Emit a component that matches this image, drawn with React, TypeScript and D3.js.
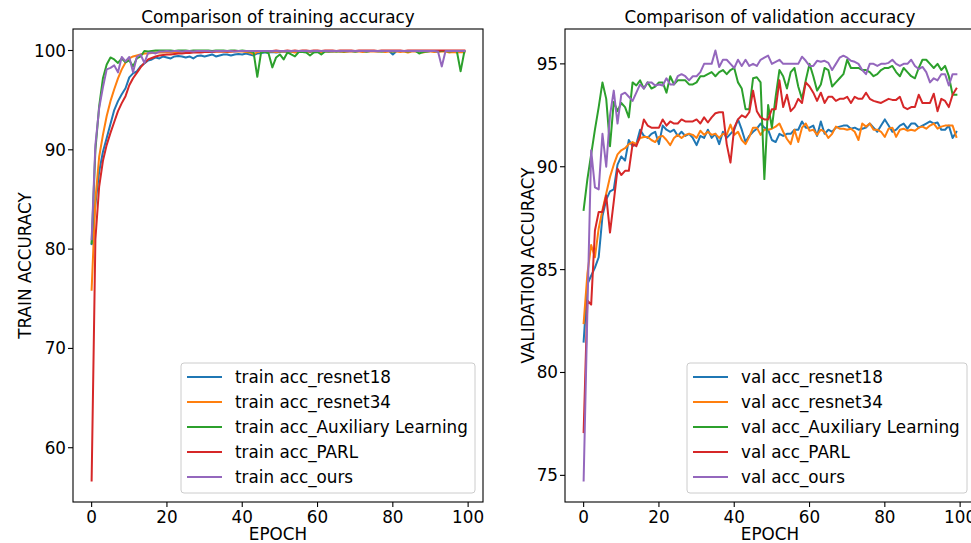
import React from 'react';
import * as d3 from 'd3';

const epochs = d3.range(100);

const trainResnet18 = [80.5, 84.5, 87.8, 89.8, 91.2, 92.6, 94.0, 94.9, 95.6, 96.2, 97.3, 97.7, 97.9, 98.4, 98.7, 99.0, 99.1, 99.3, 99.2, 99.4,
  99.3, 99.2, 99.4, 99.45, 99.4, 99.3, 99.4, 99.2, 99.45, 99.5, 99.4, 99.5, 99.6, 99.4, 99.5, 99.6, 99.6, 99.5, 99.6, 99.65,
  99.6, 99.7, 99.6, 99.5, 99.7, 99.75, 99.8, 99.8, 99.85, 99.8, 99.85, 99.9, 99.85, 99.9, 99.85, 99.9, 99.9, 99.9, 99.85, 99.9,
  99.9, 99.9, 99.95, 99.9, 99.9, 99.95, 99.9, 99.95, 99.9, 99.95, 99.9, 99.95, 99.95, 99.9, 99.95, 99.95, 99.9, 99.95, 99.95, 99.95,
  99.6, 99.95, 99.95, 99.95, 99.9, 99.95, 99.95, 99.95, 99.95, 99.9, 99.95, 99.95, 99.95, 99.95, 99.95, 99.95, 99.9, 99.95, 99.95, 99.95];

const trainResnet34 = [75.9, 85.0, 89.3, 91.5, 93.4, 94.9, 96.1, 97.2, 98.1, 98.8, 99.2, 99.4, 99.5, 99.6, 99.7, 99.7, 99.75, 99.8, 99.8, 99.8,
  99.85, 99.8, 99.85, 99.85, 99.8, 99.85, 99.9, 99.85, 99.9, 99.85, 99.9, 99.9, 99.85, 99.9, 99.9, 99.9, 99.85, 99.9, 99.9, 99.9,
  99.9, 99.85, 99.8, 99.6, 99.85, 99.9, 99.9, 99.9, 99.9, 99.85, 99.9, 99.9, 99.9, 99.9, 99.8, 99.9, 99.9, 99.85, 99.9, 99.9,
  99.9, 99.85, 99.9, 99.9, 99.9, 99.9, 99.9, 99.85, 99.9, 99.9, 99.9, 99.9, 99.85, 99.9, 99.9, 99.9, 99.9, 99.9, 99.85, 99.9,
  99.9, 99.9, 99.85, 99.9, 99.8, 99.9, 99.9, 99.9, 99.8, 99.9, 99.9, 99.85, 99.9, 99.9, 99.9, 99.8, 99.85, 99.8, 99.85, 99.8];

const trainAux = [80.6, 90.0, 94.4, 97.2, 98.6, 99.3, 99.1, 98.75, 99.2, 98.8, 99.0, 98.4, 99.2, 99.4, 99.95, 99.9, 99.95, 100, 100, 100,
  100, 100, 99.95, 100, 100, 100, 99.95, 100, 100, 100, 100, 100, 99.95, 100, 100, 100, 99.95, 100, 100, 99.95,
  100, 99.95, 99.9, 99.85, 97.35, 99.8, 99.9, 99.7, 98.3, 99.3, 99.6, 99.1, 99.8, 99.6, 99.4, 99.85, 99.85, 99.8, 99.5, 99.8,
  99.85, 99.6, 99.9, 99.9, 99.95, 99.9, 99.95, 99.9, 99.95, 99.95, 99.9, 99.95, 99.95, 99.9, 99.95, 99.95, 99.95, 99.9, 99.95, 99.95,
  99.9, 99.95, 99.95, 99.95, 99.9, 99.95, 99.95, 99.7, 99.85, 99.9, 99.95, 99.95, 99.9, 99.95, 99.95, 99.9, 99.95, 99.95, 97.9, 99.9];

const trainParl = [56.7, 81.0, 86.3, 88.9, 90.5, 91.7, 92.8, 93.9, 94.7, 95.4, 96.5, 97.2, 97.75, 98.3, 98.75, 99.1, 99.25, 99.4, 99.5, 99.55,
  99.6, 99.6, 99.65, 99.7, 99.7, 99.75, 99.75, 99.8, 99.8, 99.8, 99.85, 99.85, 99.85, 99.9, 99.9, 99.9, 99.9, 99.9, 99.95, 99.95,
  99.95, 99.95, 99.95, 99.95, 99.95, 99.95, 99.95, 99.95, 99.95, 100, 99.95, 99.95, 100, 99.95, 100, 99.95, 100, 100, 99.95, 100,
  100, 99.95, 100, 100, 100, 99.95, 100, 100, 100, 100, 99.95, 100, 100, 100, 100, 100, 99.95, 100, 100, 100,
  100, 100, 100, 99.95, 100, 100, 100, 100, 100, 100, 100, 100, 100, 100, 100, 100, 100, 100, 100, 100];

const trainOurs = [81.0, 90.5, 94.2, 96.3, 98.1, 98.25, 98.5, 97.8, 99.35, 98.9, 99.35, 97.8, 99.35, 99.6, 98.75, 99.75, 99.8, 99.7, 99.9, 99.9,
  99.95, 99.9, 99.95, 99.95, 99.9, 99.95, 99.95, 99.9, 99.95, 99.95, 99.95, 99.95, 99.9, 99.95, 99.95, 99.95, 99.95, 99.95, 99.9, 99.95,
  99.95, 99.95, 99.95, 99.95, 99.95, 99.95, 99.95, 99.95, 99.95, 99.95, 99.95, 99.95, 99.95, 99.95, 99.95, 99.95, 99.95, 99.95, 99.95, 99.95,
  99.95, 99.95, 99.95, 99.95, 99.95, 99.95, 99.95, 99.95, 99.95, 99.95, 99.95, 99.95, 99.95, 99.95, 99.95, 99.95, 99.95, 99.95, 99.95, 99.95,
  99.95, 99.95, 99.95, 99.95, 99.95, 99.95, 99.95, 99.95, 99.95, 99.95, 99.95, 99.95, 99.9, 98.4, 99.95, 99.95, 99.95, 99.95, 99.95, 99.95];

const valResnet18 = [81.5, 84.3, 84.7, 85.1, 85.6, 87.6, 88.4, 88.8, 88.9, 90.1, 90.5, 90.3, 91.3, 91.0, 91.1, 91.8, 91.5, 91.4, 91.6, 91.7,
  91.1, 92.0, 91.8, 91.7, 91.8, 91.5, 91.7, 91.5, 91.6, 91.4, 91.05, 91.5, 91.4, 91.8, 91.4, 91.6, 91.1, 91.7, 91.4, 91.6,
  91.8, 92.3, 91.8, 91.2, 91.5, 91.7, 91.85, 92.1, 91.9, 91.8, 91.3, 91.2, 91.6, 91.5, 91.6, 91.6, 91.8, 91.8, 92.2, 91.9,
  91.9, 92.0, 91.5, 92.2, 91.6, 91.8, 91.7, 91.9, 91.95, 92.0, 92.0, 91.85, 91.9, 91.8, 91.85, 91.9, 92.1, 91.9, 91.7, 92.0,
  92.3, 92.0, 91.7, 91.8, 92.0, 92.1, 91.85, 92.1, 92.1, 91.9, 92.0, 92.1, 92.2, 92.1, 92.15, 91.8, 91.8, 92.0, 91.4, 91.7];

const valResnet34 = [82.4, 84.8, 86.2, 85.6, 87.0, 87.9, 88.7, 89.5, 90.1, 90.6, 90.8, 90.9, 91.1, 91.2, 91.1, 91.4, 91.45, 91.45, 91.3, 91.2,
  91.45, 91.5, 91.3, 91.05, 91.4, 91.55, 91.4, 91.55, 91.6, 91.55, 91.4, 91.75, 91.55, 91.7, 91.55, 91.6, 91.4, 91.6, 91.55, 92.05,
  91.55, 91.7, 91.3, 91.1, 91.45, 91.9, 91.9, 91.55, 91.8, 91.8, 91.85, 91.95, 92.1, 91.7, 91.35, 91.1, 91.8, 91.2, 91.9, 92.1,
  91.75, 91.8, 91.55, 91.8, 91.7, 91.4, 91.6, 91.95, 91.85, 91.85, 91.8, 91.85, 91.7, 91.3, 92.1, 91.95, 92.1, 91.8, 91.8, 91.7,
  91.45, 91.85, 91.9, 91.45, 91.8, 91.85, 91.75, 91.8, 91.75, 91.9, 91.95, 91.85, 92.0, 92.1, 91.85, 91.95, 92.0, 92.0, 92.0, 91.45];

const valAux = [87.9, 89.4, 90.6, 91.8, 92.9, 94.1, 93.3, 91.0, 93.15, 92.7, 93.1, 92.9, 92.4, 94.1, 93.95, 94.2, 93.8, 94.1, 93.8, 93.9,
  94.1, 94.1, 93.6, 94.4, 94.0, 94.2, 94.2, 94.2, 94.0, 94.0, 94.1, 94.4, 94.4, 94.5, 94.6, 94.4, 94.6, 94.7, 94.5, 94.7,
  94.8, 94.1, 93.8, 92.8, 92.8, 94.3, 94.35, 94.1, 89.4, 93.0, 91.9, 93.4, 94.7, 94.4, 93.8, 94.6, 94.8, 93.9, 93.3, 94.2,
  95.0, 94.4, 93.7, 94.0, 94.8, 94.7, 93.9, 94.1, 94.3, 94.5, 95.2, 94.8, 94.8, 94.8, 94.7, 94.7, 94.6, 94.4, 94.5, 94.7,
  94.8, 94.8, 94.9, 94.6, 94.4, 94.8, 94.6, 94.4, 94.3, 94.8, 95.2, 95.2, 95.0, 94.8, 95.0, 94.7, 94.9, 94.4, 93.5, 93.5];

const valParl = [77.1, 83.5, 83.3, 86.9, 87.8, 87.8, 88.6, 86.8, 88.3, 89.9, 89.6, 89.8, 89.8, 91.1, 91.0, 91.5, 92.3, 92.0, 91.9, 91.9,
  91.9, 92.3, 92.0, 92.2, 92.1, 92.1, 92.3, 92.2, 92.2, 92.2, 92.3, 92.1, 92.4, 92.15, 92.4, 92.6, 92.65, 92.65, 91.1, 90.2,
  91.9, 92.3, 92.5, 92.4, 92.65, 93.7, 92.7, 92.4, 92.3, 92.3, 92.8, 92.8, 94.2, 92.9, 93.5, 92.7, 92.9, 93.3, 93.1, 94.1,
  93.9, 93.6, 93.2, 93.6, 93.1, 93.4, 93.4, 93.2, 93.3, 93.3, 93.4, 93.1, 93.4, 93.3, 93.3, 93.6, 93.3, 93.2, 93.15, 93.1,
  93.2, 93.3, 93.25, 93.25, 93.4, 92.9, 92.8, 92.9, 92.9, 93.5, 93.1, 93.1, 93.1, 93.55, 92.7, 93.3, 93.2, 92.9, 93.5, 93.8];

const valOurs = [74.75, 83.0, 90.8, 89.0, 88.9, 91.6, 90.0, 92.5, 93.7, 92.1, 93.5, 93.6, 93.4, 93.2, 93.6, 94.0, 93.8, 94.1, 94.1, 93.95,
  94.0, 93.95, 94.3, 94.0, 94.0, 94.4, 94.5, 94.4, 94.2, 94.4, 94.4, 94.6, 95.0, 95.0, 95.0, 95.65, 94.85, 95.2, 95.2, 95.0,
  94.8, 95.2, 94.9, 95.2, 94.9, 95.0, 94.9, 95.2, 95.3, 95.4, 95.0, 95.1, 95.2, 95.0, 95.0, 95.0, 95.0, 95.0, 95.35, 95.15,
  94.9, 94.9, 95.15, 95.1, 95.15, 95.05, 94.7, 95.0, 95.3, 95.4, 95.3, 95.15, 95.1, 95.0, 94.7, 94.5, 95.0, 95.0, 94.9, 95.0,
  95.0, 95.05, 95.2, 95.0, 94.9, 95.0, 95.0, 95.2, 94.9, 94.75, 94.85, 94.6, 94.1, 94.3, 94.2, 94.5, 94.5, 93.95, 94.5, 94.5];

const trainLabels = ['train acc_resnet18', 'train acc_resnet34', 'train acc_Auxiliary Learning', 'train acc_PARL', 'train acc_ours'];
const valLabels = ['val acc_resnet18', 'val acc_resnet34', 'val acc_Auxiliary Learning', 'val acc_PARL', 'val acc_ours'];
const colors = ['#1f77b4', '#ff7f0e', '#2ca02c', '#d62728', '#9467bd'];
const xTicks = [0, 20, 40, 60, 80, 100];
const trainYTicks = [60, 70, 80, 90, 100];
const valYTicks = [75, 80, 85, 90, 95];

const FONT = 'DejaVu Sans, sans-serif';
const FS = 16.8;

type PanelProps = {
  x0: number; x1: number; y0: number; y1: number;
  series: number[][]; labels: string[]; yTicks: number[];
  title: string; ylabel: string; ylabelX: number; legendWidth: number;
};

function Panel({ x0, x1, y0, y1, series, labels, yTicks, title, ylabel, ylabelX, legendWidth }: PanelProps) {
  const [emin, emax] = d3.extent(epochs) as [number, number];
  const xp = (emax - emin) * 0.05;
  const x = d3.scaleLinear().domain([emin - xp, emax + xp]).range([x0, x1]);
  const all = series.flat();
  const vmin = d3.min(all) as number;
  const vmax = d3.max(all) as number;
  const yp = (vmax - vmin) * 0.05;
  const y = d3.scaleLinear().domain([vmin - yp, vmax + yp]).range([y1, y0]);
  const line = d3.line<number>().x((_, i) => x(epochs[i])).y((d) => y(d));
  const lgRight = x1 - 8;
  const lgLeft = lgRight - legendWidth;
  const lgBottom = y1 - 9;
  const lgTop = lgBottom - 130;
  return (
    <g>
      {series.map((s, i) => (
        <path key={i} d={line(s) || ''} fill="none" stroke={colors[i]} strokeWidth={2} strokeLinejoin="round" strokeLinecap="square" />
      ))}
      <rect x={x0} y={y0} width={x1 - x0} height={y1 - y0} fill="none" stroke="#000" strokeWidth={1.1} />
      {xTicks.map((t) => (
        <g key={t}>
          <line x1={x(t)} x2={x(t)} y1={y1} y2={y1 + 5} stroke="#000" strokeWidth={1.1} />
          <text x={x(t)} y={y1 + 21} textAnchor="middle" fontSize={FS} fontFamily={FONT}>{t}</text>
        </g>
      ))}
      {yTicks.map((t) => (
        <g key={t}>
          <line x1={x0 - 5} x2={x0} y1={y(t)} y2={y(t)} stroke="#000" strokeWidth={1.1} />
          <text x={x0 - 7} y={y(t) + 6} textAnchor="end" fontSize={FS} fontFamily={FONT}>{t}</text>
        </g>
      ))}
      <text x={(x0 + x1) / 2} y={23} textAnchor="middle" fontSize={FS} fontFamily={FONT}>{title}</text>
      <text x={(x0 + x1) / 2} y={540} textAnchor="middle" fontSize={FS} fontFamily={FONT}>EPOCH</text>
      <text transform={`translate(${ylabelX},${(y0 + y1) / 2}) rotate(-90)`} textAnchor="middle" fontSize={FS} fontFamily={FONT}>{ylabel}</text>
      <rect x={lgLeft} y={lgTop} width={legendWidth} height={lgBottom - lgTop} rx={3} fill="#fff" fillOpacity={0.8} stroke="#cccccc" strokeWidth={1} />
      {labels.map((lb, i) => {
        const cy = lgTop + 14 + i * 25;
        return (
          <g key={lb}>
            <line x1={lgLeft + 6} x2={lgLeft + 41} y1={cy} y2={cy} stroke={colors[i]} strokeWidth={2} />
            <text x={lgLeft + 54} y={cy + 6} fontSize={FS} fontFamily={FONT}>{lb}</text>
          </g>
        );
      })}
    </g>
  );
}

export default function App() {
  return (
    <svg width={971} height={543} style={{ position: 'absolute', left: 0, top: 0, background: '#fff' }}>
      <rect width={971} height={543} fill="#fff" />
      <Panel x0={73} x1={483} y0={29} y1={502}
        series={[trainResnet18, trainResnet34, trainAux, trainParl, trainOurs]}
        labels={trainLabels} yTicks={trainYTicks}
        title="Comparison of training accuracy" ylabel="TRAIN ACCURACY" ylabelX={31} legendWidth={294} />
      <Panel x0={565} x1={975} y0={29} y1={502}
        series={[valResnet18, valResnet34, valAux, valParl, valOurs]}
        labels={valLabels} yTicks={valYTicks}
        title="Comparison of validation accuracy" ylabel="VALIDATION ACCURACY" ylabelX={534} legendWidth={280} />
    </svg>
  );
}
